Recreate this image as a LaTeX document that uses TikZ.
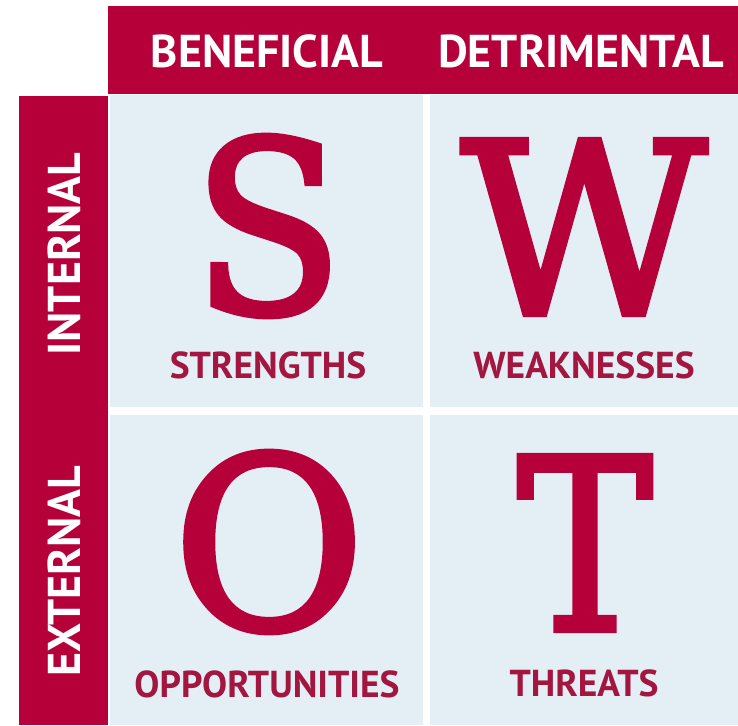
\documentclass[tikz,border=0pt]{standalone}
\usepackage{fontspec}
\newfontfamily\capfont{PT Sans}
\newfontfamily\bigfont{DejaVu Serif}[FakeBold=2.5]
\definecolor{swotred}{HTML}{B5003A}
\definecolor{swotlabel}{HTML}{A3163F}
\definecolor{swotcell}{HTML}{E4EEF5}
\begin{document}
\begin{tikzpicture}[x=1pt,y=-1pt,
	bar/.style={text=white,font=\capfont\bfseries\fontsize{46}{46}\selectfont,inner sep=0pt},
	letter/.style={text=swotred,font=\bigfont\fontsize{239}{239}\selectfont,inner sep=0pt},
	label/.style={text=swotlabel,font=\capfont\bfseries\fontsize{37.5}{37.5}\selectfont,inner sep=0pt}]
	\useasboundingbox[fill=white] (0,0) rectangle (738,725);
	% red bars
	\fill[swotred] (108,6) rectangle (738,94);
	\fill[swotred] (19,96) rectangle (108,725);
	% cells
	\fill[swotcell] (110,95) rectangle (423,407);
	\fill[swotcell] (430,95) rectangle (738,407);
	\fill[swotcell] (110,415) rectangle (423,725);
	\fill[swotcell] (430,415) rectangle (738,725);
	\node[bar] at (267,51) (ben) {BENEFICIAL};
	\node[bar] at (581,51) (det) {DETRIMENTAL};
	\node[bar,rotate=90] at (64,254) (int) {INTERNAL};
	\node[bar,rotate=90] at (64,571) (ext) {EXTERNAL};
	\node[letter] at (268,226) (s) {\scalebox{0.92}[1]{S}};
	\node[letter] at (584,227) (w) {W};
	\node[letter] at (269,542) (o) {\scalebox{0.98}[1]{O}};
	\node[letter] at (585,543) (t) {\scalebox{0.85}[1]{T}};
	\node[label] at (268,365) (str) {STRENGTHS};
	\node[label] at (584,365) (wea) {WEAKNESSES};
	\node[label] at (267,684) (opp) {OPPORTUNITIES};
	\node[label] at (584,683) (thr) {THREATS};
\end{tikzpicture}
\end{document}
